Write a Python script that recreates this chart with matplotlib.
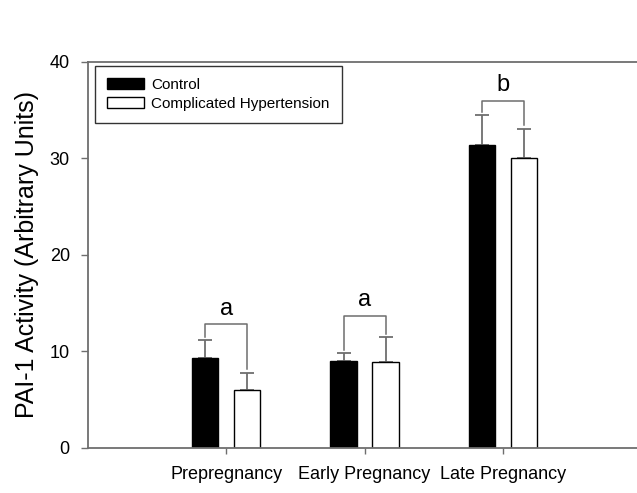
import numpy as np
import matplotlib.pyplot as plt

plt.rcParams['font.family'] = ['Liberation Sans', 'DejaVu Sans']

# data
groups = ['Prepregnancy', 'Early Pregnancy', 'Late Pregnancy']
control = [9.3, 9.0, 31.4]
control_err = [1.85, 0.85, 3.1]
complicated = [6.05, 8.9, 30.0]
complicated_err = [1.75, 2.6, 3.1]
letters = ['a', 'a', 'b']
bracket_y = [12.85, 13.7, 36.0]

gray = '#6e6e6e'

fig = plt.figure(figsize=(6.37, 4.93), dpi=100)
ax = fig.add_axes([0.138, 0.0913, 0.862, 0.783])

x = np.arange(len(groups))
w = 0.19
off = 0.152

b1 = ax.bar(x - off, control, w, color='black', edgecolor='black', linewidth=1,
            zorder=2, label='Control')
b2 = ax.bar(x + off, complicated, w, color='white', edgecolor='black', linewidth=1,
            zorder=2, label='Complicated Hypertension')

# one-sided error bars
ax.errorbar(x - off, control, yerr=[np.zeros(3), control_err], fmt='none',
            ecolor=gray, elinewidth=1.3, capsize=5, capthick=1.3, zorder=1)
ax.errorbar(x + off, complicated, yerr=[np.zeros(3), complicated_err], fmt='none',
            ecolor=gray, elinewidth=1.3, capsize=5, capthick=1.3, zorder=1)

# significance brackets
for i in range(len(groups)):
    y0 = bracket_y[i]
    left_end = control[i] + control_err[i] + 0.35
    right_end = complicated[i] + complicated_err[i] + 0.35
    ax.plot([x[i] - off, x[i] - off, x[i] + off, x[i] + off],
            [left_end, y0, y0, right_end], color=gray, lw=1.1, zorder=3)
    ax.text(x[i], y0 + 0.45, letters[i], ha='center', va='bottom', fontsize=17)

ax.set_xlim(-1, 2.97)
ax.set_ylim(0, 40)
ax.set_yticks([0, 10, 20, 30, 40])
ax.set_xticks(x)
ax.set_xticklabels(groups, fontsize=13)
ax.tick_params(axis='y', labelsize=13, length=5, color=gray, width=1, pad=8)
ax.tick_params(axis='x', length=4, color=gray, width=1, pad=9)
ax.set_ylabel('PAI-1 Activity (Arbitrary Units)', fontsize=18, labelpad=8)

for s in ['left', 'top', 'bottom']:
    ax.spines[s].set_color(gray)
    ax.spines[s].set_linewidth(1.3)
ax.spines['right'].set_visible(False)

leg = ax.legend(handles=[b1, b2], loc='upper left',
                bbox_to_anchor=(0.0125, 0.99), fontsize=11, frameon=True,
                fancybox=False, edgecolor='black', handlelength=2.4,
                handleheight=0.7, borderpad=0.8, labelspacing=0.3,
                handletextpad=0.5, borderaxespad=0)
leg.get_frame().set_linewidth(1)

plt.savefig('out.png', dpi=100)
